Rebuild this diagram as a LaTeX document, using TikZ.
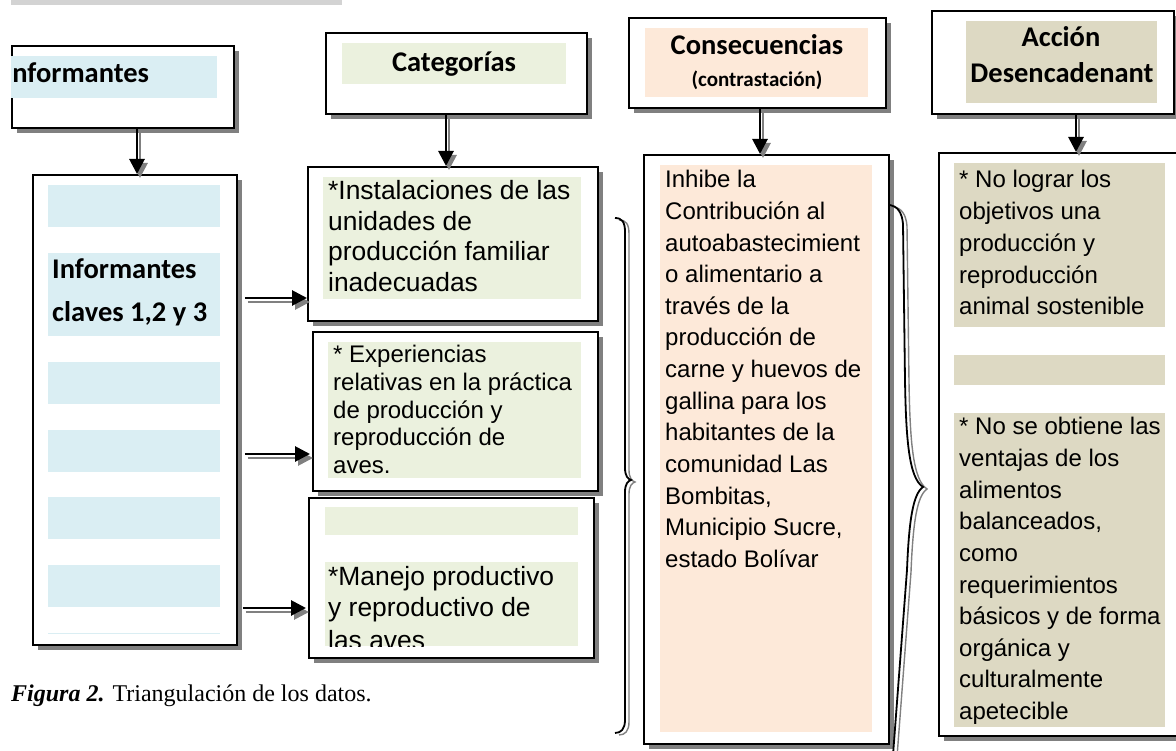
\documentclass[tikz,border=0pt]{standalone}
\usepackage{fontspec}
\setmainfont{Liberation Sans}
\newfontfamily\calib{Carlito}
\newfontfamily\timesf{Liberation Serif}
\usetikzlibrary{arrows.meta,shadows}
\definecolor{ablue}{HTML}{DAEEF3}
\definecolor{agreen}{HTML}{EBF1DE}
\definecolor{apeach}{HTML}{FDE9D9}
\definecolor{atan}{HTML}{DDD9C3}
\definecolor{sgrey}{HTML}{808080}
\definecolor{bargrey}{HTML}{D3D3D3}
\begin{document}
\begin{tikzpicture}[x=1pt,y=-1pt,
  box/.style={draw=black,line width=1.8pt,fill=white,inner sep=0pt,anchor=north west,
    drop shadow={shadow xshift=5pt,shadow yshift=-5pt,opacity=1,fill=sgrey}},
  arr/.style={line width=2.8pt,draw=black,-{Triangle[length=15pt,width=15pt]}},
  arrsh/.style={arr,draw=sgrey,transform canvas={xshift=3pt,yshift=-4pt}},
  brace/.style={line width=1.8pt,draw=black},
  bracesh/.style={line width=1.4pt,draw=sgrey,transform canvas={xshift=4pt,yshift=-2pt}},
  lt/.style={anchor=base west,inner sep=0pt},
  hd/.style={anchor=base,inner sep=0pt,font=\calib\bfseries\fontsize{28.5}{34}\selectfont},
  tA/.style={font=\fontsize{24}{30}\selectfont},
  tB/.style={font=\fontsize{26.4}{30}\selectfont}]
\useasboundingbox (0,0) rectangle (1176,751);
\fill[white] (0,0) rectangle (1176,751);
% top bar
\fill[bargrey] (11,0) rectangle (342,5);

% ---------- Informantes column ----------
\node[box,minimum width=222pt,minimum height=82pt] (inf0) at (11,45) {};
\fill[ablue] (11,56) rectangle (217,98);
\begin{scope}
\clip (12,46) rectangle (232,126);
\node[hd,anchor=base west] (inf0t) at (4.5,83) {Informantes};
\end{scope}

\node[box,minimum width=204pt,minimum height=470pt] (inf) at (32,174) {};
\foreach \a/\b in {185/227,253/336,362/404,430/472,497/539,565/607}
  \fill[ablue] (48,\a) rectangle (220,\b);
\draw[ablue,line width=1pt] (48,633) -- (220,633);
\node[hd,anchor=base west] (inft1) at (52,279) {Informantes};
\node[hd,anchor=base west] (inft2) at (52,322) {claves 1,2 y 3};

\coordinate (ax1) at (137,0);
\draw[arrsh] (inf0.south -| ax1) -- (inf.north -| ax1);
\draw[arr] (inf0.south -| ax1) -- (inf.north -| ax1);

% ---------- Categorias column ----------
\node[box,minimum width=261pt,minimum height=81pt] (cath) at (325,32) {};
\fill[agreen] (342,43) rectangle (566,84);
\node[hd] (catht) at (454,72) {Categorías};

\node[box,minimum width=290pt,minimum height=154pt] (cat1) at (307,166) {};
\fill[agreen] (323,177) rectangle (581,299);
\foreach \t [count=\i from 0] in {*Instalaciones de las,unidades de,producción familiar,inadecuadas}
  \node[lt,tB] (cat1t\i) at (328,{200+30.5*\i}) {\t};

\node[box,minimum width=285pt,minimum height=159pt] (cat2) at (312,331) {};
\fill[agreen] (328,342) rectangle (581,478);
\foreach \t [count=\i from 0] in {* Experiencias,relativas en la práctica,de producción y,reproducción de,aves.}
  \node[lt,tA] (cat2t\i) at (333,{362.7+27.65*\i}) {\t};

\node[box,minimum width=285pt,minimum height=160pt] (cat3) at (308,497) {};
\fill[agreen] (325,507) rectangle (578,535);
\fill[agreen] (325,562) rectangle (578,646);
\begin{scope}
\clip (325,562) rectangle (578,646);
\foreach \t/\yy [count=\i from 0] in {*Manejo productivo/585,y reproductivo de/616,las aves/649.5}
  \node[lt,tB] (cat3t\i) at (328,\yy) {\t};
\end{scope}

\coordinate (ax2) at (446,0);
\draw[arrsh] (cath.south -| ax2) -- (cat1.north -| ax2);
\draw[arr] (cath.south -| ax2) -- (cat1.north -| ax2);

\coordinate (h1) at (0,298);
\coordinate (h2) at (0,454);
\coordinate (h3) at (0,608);
\draw[arrsh,shorten <=7pt] (inf.east |- h1) -- (cat1.west |- h1);
\draw[arr,shorten <=7pt] (inf.east |- h1) -- (cat1.west |- h1);
\draw[arrsh,shorten <=7pt,shorten >=2pt] (inf.east |- h2) -- (cat2.west |- h2);
\draw[arr,shorten <=7pt,shorten >=2pt] (inf.east |- h2) -- (cat2.west |- h2);
\draw[arrsh,shorten <=5pt,shorten >=2pt] (inf.east |- h3) -- (cat3.west |- h3);
\draw[arr,shorten <=5pt,shorten >=2pt] (inf.east |- h3) -- (cat3.west |- h3);

% brace 1
\def\braceone{(615,218) .. controls (622,218) and (625,222) .. (625,232) -- (625,468)
  .. controls (625,476) and (628,479) .. (631,480) .. controls (628,481) and (625,484) .. (625,492)
  -- (625,720) .. controls (625,729) and (621,733) .. (615,733)}
\draw[bracesh] \braceone;
\draw[brace] \braceone;

% ---------- Consecuencias column ----------
\node[box,minimum width=257pt,minimum height=90pt] (conh) at (628,17) {};
\fill[apeach] (645,28) rectangle (868,97);
\node[hd] (conht1) at (757,55) {Consecuencias};
\node[hd,font=\calib\bfseries\fontsize{21}{26}\selectfont] (conht2) at (757,87) {(contrastación)};

\node[box,minimum width=245pt,minimum height=589pt] (con) at (643,154) {};
\fill[apeach] (660,165) rectangle (872,732);
\foreach \t [count=\i from 0] in {Inhibe la,Contribución al,autoabastecimient,o alimentario a,través de la,producción de,carne y huevos de,gallina para los,habitantes de la,comunidad Las,{Bombitas,},{Municipio Sucre,},estado Bolívar}
  \node[lt,tA] (cont\i) at (665,{188+31.6*\i}) {\t};

\coordinate (ax3) at (760,0);
\draw[arrsh] (conh.south -| ax3) -- (con.north -| ax3);
\draw[arr] (conh.south -| ax3) -- (con.north -| ax3);

% brace 2
\def\bracetwo{(890,205) .. controls (897,206) and (902,212) .. (903,224) -- (905,380)
  .. controls (906,440) and (909,478) .. (923,487) .. controls (913,494) and (909,520) .. (907,570)
  -- (893,755)}
\draw[bracesh] \bracetwo;
\draw[brace] \bracetwo;

% ---------- Accion column ----------
\node[box,minimum width=242pt,minimum height=103pt] (acch) at (931,10) {};
\fill[atan] (966,21) rectangle (1157,103);
\node[hd] (accht1) at (1061,47) {Acción};
\node[hd] (accht2) at (1062,83) {Desencadenant};

\node[box,minimum width=252pt,minimum height=583pt] (acc) at (938,152) {};
\fill[atan] (954,163) rectangle (1165,327);
\fill[atan] (954,355) rectangle (1165,385);
\fill[atan] (954,413) rectangle (1165,727);
\foreach \t [count=\i from 0] in {* No lograr los,objetivos una,producción y,reproducción,animal sostenible}
  \node[lt,tA] (acct\i) at (959,{188+31.7*\i}) {\t};
\foreach \t [count=\i from 0] in {* No se obtiene las,ventajas de los,alimentos,{balanceados,},como,requerimientos,básicos y de forma,orgánica y,culturalmente,apetecible}
  \node[lt,tA] (accu\i) at (959,{435+31.6*\i}) {\t};

\coordinate (ax4) at (1076,0);
\draw[arrsh] (acch.south -| ax4) -- (acc.north -| ax4);
\draw[arr] (acch.south -| ax4) -- (acc.north -| ax4);

% caption
\node[lt,font=\timesf\fontsize{24}{28}\selectfont] (cap) at (11,701)
  {{\bfseries\itshape Figura 2.} Triangulación de los datos.};
\end{tikzpicture}
\end{document}
